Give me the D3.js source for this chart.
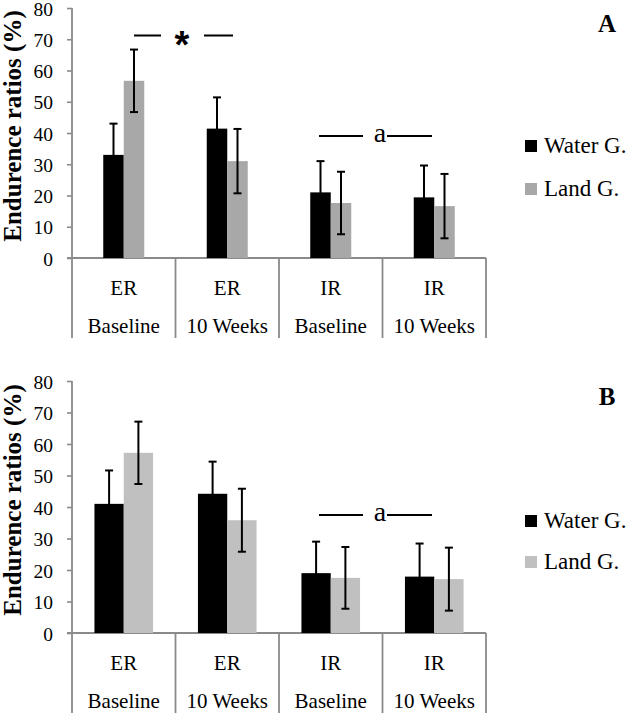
<!DOCTYPE html>
<html>
<head>
<meta charset="utf-8">
<script src="https://d3js.org/d3.v7.min.js"></script>
<style>
  html, body { margin: 0; padding: 0; background: #fff; }
  svg { display: block; }
</style>
</head>
<body>
<svg id="chart" width="633" height="714"></svg>
<script>
// ---- data ----
const categoriesTop = ["ER", "ER", "IR", "IR"];
const categoriesBottom = ["Baseline", "10 Weeks", "Baseline", "10 Weeks"];
const seriesNames = ["Water G.", "Land G."];
const yTicks = [0, 10, 20, 30, 40, 50, 60, 70, 80];

const waterA = [33.0, 41.4, 21.0, 19.4];
const waterAErr = [10.0, 10.0, 10.0, 10.2];
const landA = [56.7, 31.0, 17.6, 16.6];
const landAErr = [10.0, 10.3, 10.0, 10.3];

const waterB = [41.0, 44.2, 19.0, 17.9];
const waterBErr = [10.6, 10.2, 10.0, 10.5];
const landB = [57.2, 35.8, 17.5, 17.1];
const landBErr = [9.9, 10.0, 9.8, 10.0];

const yTitle = "Endurence ratios (%)";

// ---- layout ----
const SERIF = '"Liberation Serif", "Times New Roman", Tinos, serif';
const SANS = '"Liberation Sans", Arial, sans-serif';
const svg = d3.select("#chart");
const colors = { water: "#000000", landA: "#a8a8a8", landB: "#c0c0c0" };
const axisColor = "#8a8a8a";

const panels = [
  { label: "A", top: 8, bottom: 258, water: waterA, waterErr: waterAErr, land: landA, landErr: landAErr,
    landColor: colors.landA, groupW: 41, star: true, aY: 136, legY: [153, 196] },
  { label: "B", top: 381, bottom: 633, water: waterB, waterErr: waterBErr, land: landB, landErr: landBErr,
    landColor: colors.landB, groupW: 58.6, star: false, aY: 515, legY: [528, 569] }
];

const left = 72, right = 486;

panels.forEach(p => {
  const g = svg.append("g");
  const y = d3.scaleLinear().domain([0, 80]).range([p.bottom, p.top]);
  const x0 = d3.scaleBand().domain(d3.range(categoriesTop.length)).range([left, right]).padding(0);
  const x1 = d3.scaleBand().domain(seriesNames).range([0, p.groupW]).padding(0);
  const off = (x0.bandwidth() - p.groupW) / 2;

  // y axis
  const yAxis = d3.axisLeft(y).tickValues(yTicks).tickSize(5).tickPadding(14);
  const ay = g.append("g").attr("transform", `translate(${left},0)`).call(yAxis);
  ay.select(".domain").remove();
  ay.selectAll(".tick line").attr("stroke", axisColor).attr("stroke-width", 1.6);
  ay.selectAll(".tick text")
    .attr("dy", "0.37em")
    .style("font-family", SERIF)
    .style("font-size", "19.5px").attr("fill", "#000");
  g.append("line").attr("x1", left).attr("x2", left).attr("y1", p.top).attr("y2", p.bottom + 80)
    .attr("stroke", axisColor).attr("stroke-width", 1.8);

  // x axis line and dividers
  g.append("line").attr("x1", left - 5).attr("x2", right).attr("y1", p.bottom).attr("y2", p.bottom)
    .attr("stroke", axisColor).attr("stroke-width", 1.8);
  const bounds = x0.domain().map(i => x0(i)).concat([right]);
  g.selectAll(".div").data(bounds.slice(1)).join("line")
    .attr("x1", d => d).attr("x2", d => d).attr("y1", p.bottom).attr("y2", p.bottom + 80)
    .attr("stroke", axisColor).attr("stroke-width", 1.8);

  // category labels
  g.selectAll(".cat1").data(categoriesTop).join("text")
    .attr("x", (d, i) => x0(i) + x0.bandwidth() / 2).attr("y", p.bottom + 37)
    .attr("text-anchor", "middle").style("font-family", SERIF).style("font-size", "21px").text(d => d);
  g.selectAll(".cat2").data(categoriesBottom).join("text")
    .attr("x", (d, i) => x0(i) + x0.bandwidth() / 2).attr("y", p.bottom + 75)
    .attr("text-anchor", "middle").style("font-family", SERIF).style("font-size", "21px").text(d => d);

  // bars
  const rows = categoriesTop.map((c, i) => ([
    { i, s: seriesNames[0], v: p.water[i], e: p.waterErr[i], color: colors.water },
    { i, s: seriesNames[1], v: p.land[i], e: p.landErr[i], color: p.landColor }
  ])).flat();

  g.selectAll(".bar").data(rows).join("rect")
    .attr("x", d => x0(d.i) + off + x1(d.s))
    .attr("width", x1.bandwidth())
    .attr("y", d => y(d.v))
    .attr("height", d => y(0) - y(d.v))
    .attr("fill", d => d.color);

  // error bars
  const eg = g.selectAll(".err").data(rows).join("g")
    .attr("transform", d => `translate(${x0(d.i) + off + x1(d.s) + x1.bandwidth() / 2},0)`);
  eg.append("line").attr("x1", 0).attr("x2", 0)
    .attr("y1", d => y(d.v - d.e)).attr("y2", d => y(d.v + d.e))
    .attr("stroke", "#000").attr("stroke-width", 2);
  eg.append("line").attr("x1", -4).attr("x2", 4)
    .attr("y1", d => y(d.v + d.e)).attr("y2", d => y(d.v + d.e))
    .attr("stroke", "#000").attr("stroke-width", 2);
  eg.append("line").attr("x1", -4).attr("x2", 4)
    .attr("y1", d => y(d.v - d.e)).attr("y2", d => y(d.v - d.e))
    .attr("stroke", "#000").attr("stroke-width", 2);

  // y title
  g.append("text")
    .attr("transform", `translate(21,${(p.top + p.bottom) / 2 - 7}) rotate(-90)`)
    .attr("text-anchor", "middle")
    .style("font-family", SERIF)
    .style("font-size", "25px").style("font-weight", "bold")
    .text(yTitle);

  // panel label
  g.append("text").attr("x", 607).attr("y", p.top + 24)
    .attr("text-anchor", "middle").style("font-family", SERIF)
    .style("font-size", "25px").style("font-weight", "bold")
    .text(p.label);

  // significance "a"
  g.append("line").attr("x1", 319).attr("x2", 363).attr("y1", p.aY).attr("y2", p.aY)
    .attr("stroke", "#000").attr("stroke-width", 2);
  g.append("line").attr("x1", 387).attr("x2", 432).attr("y1", p.aY).attr("y2", p.aY)
    .attr("stroke", "#000").attr("stroke-width", 2);
  g.append("text").attr("x", 380).attr("y", p.aY + 6).attr("text-anchor", "middle")
    .style("font-family", SERIF).style("font-size", "28px").text("a");

  if (p.star) {
    g.append("line").attr("x1", 134).attr("x2", 161).attr("y1", 35.5).attr("y2", 35.5)
      .attr("stroke", "#000").attr("stroke-width", 2);
    g.append("line").attr("x1", 204).attr("x2", 233).attr("y1", 35.5).attr("y2", 35.5)
      .attr("stroke", "#000").attr("stroke-width", 2);
    g.append("text").attr("x", 182).attr("y", 58).attr("text-anchor", "middle")
      .style("font-family", SANS)
      .style("font-size", "38px").style("font-weight", "bold").text("*");
  }

  // legend
  const lg = g.selectAll(".leg").data(seriesNames).join("g")
    .attr("transform", (d, i) => `translate(525,${p.legY[i]})`);
  lg.append("rect").attr("x", 0).attr("y", -13).attr("width", 12).attr("height", 12)
    .attr("fill", (d, i) => i === 0 ? colors.water : p.landColor);
  lg.append("text").attr("x", 19).attr("y", 0)
    .style("font-family", SERIF).style("font-size", "23px").text(d => d);
});
</script>
</body>
</html>
